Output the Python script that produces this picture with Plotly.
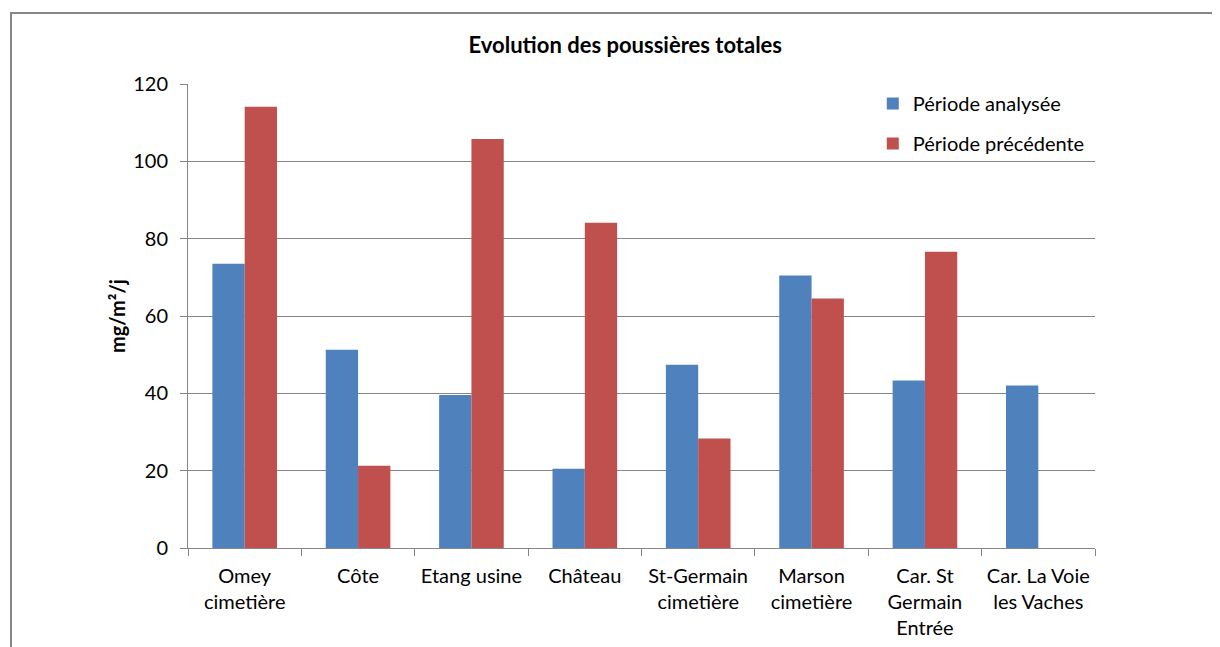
import plotly.graph_objects as go

categories = ["Omey<br>cimetière", "Côte", "Etang usine", "Château",
              "St-Germain<br>cimetière", "Marson<br>cimetière",
              "Car. St<br>Germain<br>Entrée", "Car. La Voie<br>les Vaches"]
periode_analysee = [73.5, 51.3, 39.6, 20.5, 47.4, 70.5, 43.3, 42.0]
periode_precedente = [114.1, 21.3, 105.8, 84.1, 28.3, 64.5, 76.6, None]
y_ticks = [0, 20, 40, 60, 80, 100, 120]

FONT = "Lato, Open Sans, sans-serif"

fig = go.Figure()
fig.add_trace(go.Bar(x=categories, y=periode_analysee, name="Période analysée",
                     marker=dict(color="#4F81BD", line=dict(width=0)),
                     legendgroup="a"))
fig.add_trace(go.Bar(x=categories, y=periode_precedente, name="Période précédente",
                     marker=dict(color="#C0504D", line=dict(width=0)),
                     legendgroup="b"))

fig.update_layout(
    width=1220, height=647,
    margin=dict(l=180, r=133, t=76, b=107),
    paper_bgcolor="white", plot_bgcolor="white",
    barmode="group", bargap=0.43, bargroupgap=0,
    font=dict(family=FONT, size=20, color="#000000"),
    title=dict(text="<b>Evolution des poussières totales</b>", x=0.506, xanchor="center",
               y=1 - 37 / 647, yanchor="middle", yref="container",
               font=dict(family=FONT, size=22, color="#000000")),
    legend=dict(x=0.755, y=1.0, xanchor="left", yanchor="top",
                bgcolor="rgba(0,0,0,0)", traceorder="grouped", tracegroupgap=11,
                font=dict(family=FONT, size=20), itemwidth=30),
    xaxis=dict(type="category", showline=True, linecolor="#868686", linewidth=1,
               ticks="outside", tickson="boundaries", ticklen=7, tickcolor="#868686",
               showgrid=False, tickfont=dict(family=FONT, size=20),
               ticklabelstandoff=10),
    yaxis=dict(range=[0, 120], tickvals=y_ticks, showline=True, linecolor="#868686",
               linewidth=1, ticks="outside", ticklen=7, tickcolor="#868686",
               showgrid=True, gridcolor="#868686", gridwidth=1, zeroline=False,
               tickfont=dict(family=FONT, size=20), ticklabelstandoff=8,
               title=dict(text="<b>mg/m²/j</b>", standoff=2,
                          font=dict(family=FONT, size=20))),
    shapes=[dict(type="rect", xref="paper", yref="paper",
                 x0=(11 - 188) / 907, x1=(1240 - 188) / 907,
                 y0=(548.3 - 700) / 464.3, y1=(548.3 - 13) / 464.3,
                 line=dict(color="#868686", width=2), fillcolor="rgba(0,0,0,0)",
                 layer="below")],
)

fig.write_html("out.html")
